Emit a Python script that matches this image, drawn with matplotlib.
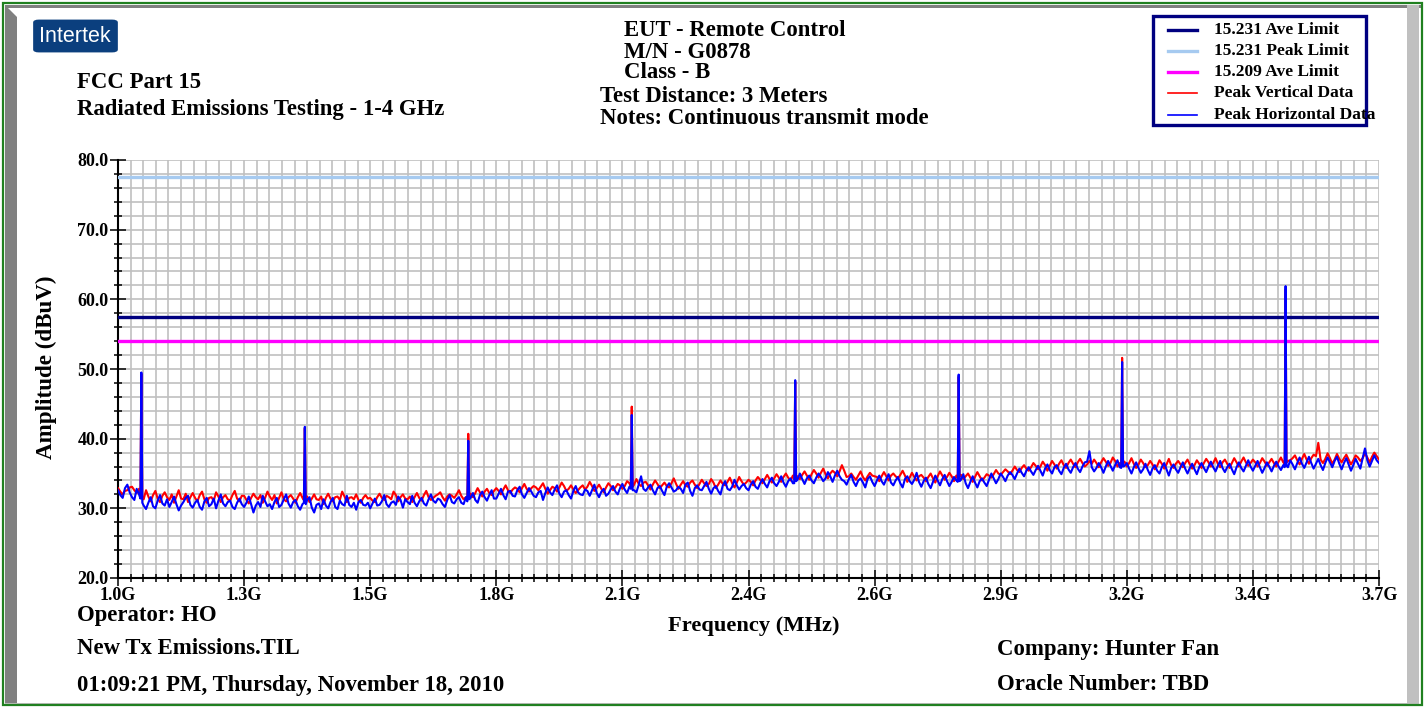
"""
Radiated emissions scan, 1-3.7 GHz, peak vertical and horizontal data
against the FCC 15.231 / 15.209 limits.
"""
import matplotlib
matplotlib.use('Agg')
from matplotlib import pyplot as pp
from matplotlib.patches import Rectangle, FancyBboxPatch, Polygon
from matplotlib.lines import Line2D
import matplotlib.ticker as plticker
import numpy as np

pp.rcParams['font.family'] = ['Liberation Serif', 'DejaVu Serif']
pp.rcParams['font.weight'] = 'bold'

W, H = 1427, 707

# limits (dBuV)
aveLimit231 = 57.5
peakLimit231 = 77.5
aveLimit209 = 54.0

# noise floor read off every 5 MHz: "even" list at 1000,1010,...,3700 and
# "odd" list at 1005,1015,...,3695 (one row per 270 MHz division)
horizEven = [
  32.6, 31.5, 33.4, 31.6, 32.8, 31.2, 29.9, 31.6, 30.0, 31.9, 30.4, 30.2, 31.7, 29.7, 30.9, 31.8, 30.1, 31.2, 29.8, 31.5, 30.6, 30.0, 32.0, 30.3, 31.1, 29.9, 31.4,
  30.2, 31.7, 29.4, 30.9, 31.8, 30.3, 29.9, 31.5, 30.5, 32.0, 30.1, 31.2, 29.8, 30.8, 31.6, 29.4, 30.7, 31.3, 30.0, 31.5, 29.9, 30.6, 31.8, 30.2, 29.8, 31.2, 30.4,
  30.0, 31.4, 30.5, 31.9, 30.2, 31.0, 31.7, 30.1, 30.9, 31.8, 30.3, 31.5, 30.4, 32.0, 30.8, 31.2, 30.2, 31.9, 30.7, 31.6, 30.6, 31.3, 32.2, 30.8, 32.4, 31.1, 32.6,
  31.4, 32.8, 31.3, 32.5, 31.7, 33.1, 31.5, 32.9, 31.8, 32.3, 31.2, 33.0, 31.9, 33.3, 31.6, 32.6, 31.4, 33.2, 32.0, 32.7, 31.8, 33.4, 31.6, 32.8, 32.1, 33.2, 32.0,
  33.5, 32.2, 33.0, 32.3, 34.6, 32.5, 33.4, 32.0, 33.2, 31.9, 33.6, 32.4, 33.1, 32.2, 33.7, 31.8, 33.3, 32.6, 33.8, 32.1, 33.2, 32.0, 33.9, 32.6, 34.1, 32.7, 33.5,
  32.6, 33.9, 32.8, 34.2, 33.0, 34.4, 33.2, 34.6, 33.1, 34.3, 33.4, 35.0, 33.5, 34.7, 33.6, 35.0, 33.9, 35.2, 33.8, 35.4, 34.1, 33.4, 34.8, 33.2, 34.3, 33.0, 34.6,
  33.2, 34.7, 33.4, 34.9, 33.3, 34.5, 33.0, 34.6, 33.5, 35.1, 33.1, 34.4, 32.9, 34.7, 33.3, 34.8, 33.2, 34.5, 33.4, 34.9, 32.9, 34.6, 33.0, 34.3, 33.2, 35.0, 33.6,
  35.0, 33.9, 35.2, 34.2, 35.7, 34.6, 35.9, 34.8, 36.1, 34.7, 36.3, 35.0, 36.2, 34.9, 36.4, 35.1, 36.5, 35.2, 36.6, 38.2, 35.3, 36.5, 35.1, 36.8, 35.4, 36.9, 35.5,
  36.5, 35.0, 36.6, 35.1, 36.4, 34.8, 36.2, 35.0, 36.5, 34.7, 36.3, 35.1, 36.6, 35.0, 36.4, 34.9, 36.5, 35.2, 36.7, 35.3, 36.8, 35.2, 36.4, 34.9, 36.6, 35.3, 36.9,
  35.4, 36.8, 35.1, 36.6, 35.3, 36.7, 35.5, 36.4, 36.9, 35.6, 37.3, 35.8, 37.4, 35.7, 37.1, 35.5, 37.3, 35.9, 37.4, 35.6, 37.2, 35.4, 37.1, 35.7, 38.6, 36.0, 37.6,
  36.5]

horizOdd = [
  31.9, 32.9, 32.3, 31.2, 32.0, 30.4, 30.8, 30.3, 31.1, 30.7, 31.3, 30.9, 30.6, 30.4, 31.5, 30.5, 30.8, 30.2, 31.0, 30.3, 31.4, 31.1, 30.7, 30.9, 30.2, 30.8, 30.6,
  30.8, 30.6, 30.4, 30.2, 31.0, 30.6, 30.9, 30.2, 31.3, 30.7, 30.9, 30.3, 30.6, 31.2, 30.1, 30.5, 29.9, 30.4, 30.9, 30.2, 31.1, 30.4, 30.5, 30.8, 30.9, 30.5, 30.8,
  30.7, 30.4, 31.0, 30.6, 30.8, 30.5, 31.2, 31.3, 30.6, 30.8, 31.0, 30.7, 31.3, 31.1, 31.4, 30.6, 31.2, 30.9, 31.3, 30.8, 31.6, 31.5, 31.2, 31.9, 31.6, 31.9, 31.4,
  32.1, 31.9, 32.4, 31.8, 32.6, 32.0, 32.2, 32.4, 31.6, 32.5, 32.2, 32.3, 32.7, 32.1, 32.4, 31.9, 32.5, 32.3, 31.9, 32.5, 32.6, 32.2, 32.4, 31.8, 32.7, 32.4, 32.9,
  32.7, 33.1, 32.6, 33.4, 32.8, 33.0, 32.6, 32.9, 32.5, 33.1, 33.0, 32.6, 32.8, 33.4, 32.5, 32.9, 32.7, 33.2, 32.8, 32.9, 32.5, 33.3, 32.8, 33.1, 33.3, 33.2, 32.9,
  33.4, 33.1, 33.6, 33.5, 33.9, 33.6, 33.8, 33.7, 33.9, 33.6, 34.1, 34.2, 34.3, 34.0, 34.4, 34.5, 34.3, 34.6, 34.7, 34.6, 33.9, 34.2, 33.8, 34.0, 33.7, 34.2, 33.8,
  34.0, 33.9, 34.2, 33.7, 34.0, 33.6, 34.2, 33.9, 34.1, 33.8, 33.9, 33.5, 33.8, 34.0, 34.2, 33.9, 33.8, 34.0, 34.1, 33.6, 33.8, 33.7, 33.9, 33.7, 34.1, 34.3, 34.2,
  34.5, 34.7, 34.8, 35.0, 35.1, 35.4, 35.3, 35.5, 35.4, 35.7, 35.5, 35.9, 35.4, 35.8, 35.6, 35.9, 35.7, 36.0, 36.7, 35.9, 35.8, 35.9, 36.0, 36.1, 36.2, 35.9, 36.1,
  35.7, 35.9, 35.8, 35.6, 35.5, 35.7, 35.4, 35.9, 35.6, 35.8, 35.6, 35.9, 35.7, 35.8, 35.6, 35.9, 35.8, 36.0, 35.9, 36.1, 35.8, 35.9, 35.6, 35.9, 35.8, 36.1, 36.0,
  36.1, 35.9, 35.8, 36.0, 36.1, 36.0, 36.2, 35.9, 36.3, 36.5, 36.4, 36.6, 36.5, 36.4, 36.2, 36.5, 36.6, 36.8, 36.4, 36.5, 36.3, 36.2, 36.4, 37.2, 36.9, 36.8, 36.9]

vertEven = [
  32.9, 32.0, 32.6, 33.1, 32.2, 31.9, 32.6, 31.0, 32.5, 30.9, 32.3, 31.2, 30.8, 32.6, 31.3, 30.9, 32.2, 31.0, 32.4, 30.8, 31.6, 32.3, 30.9, 31.9, 31.1, 32.5, 31.0,
  31.8, 30.7, 32.1, 31.3, 30.8, 32.4, 31.2, 30.7, 32.3, 31.0, 31.9, 30.8, 32.2, 31.1, 30.9, 32.0, 31.2, 30.6, 32.1, 31.0, 31.7, 32.4, 30.9, 31.6, 32.0, 30.8, 31.9,
  31.5, 30.9, 32.1, 31.2, 31.6, 32.4, 31.0, 32.0, 31.3, 30.9, 32.2, 31.1, 32.5, 31.2, 31.8, 32.3, 31.1, 32.0, 31.5, 32.6, 31.3, 32.1, 31.6, 32.9, 31.7, 32.8, 31.9,
  32.9, 32.0, 33.3, 32.2, 33.0, 32.3, 33.5, 32.4, 33.2, 32.6, 33.6, 32.1, 33.1, 32.4, 33.7, 32.5, 33.3, 32.2, 33.0, 32.7, 33.8, 32.5, 33.4, 32.3, 33.6, 32.6, 33.5,
  32.8, 33.9, 32.9, 34.2, 33.2, 33.8, 32.7, 34.0, 32.9, 33.7, 33.0, 34.3, 32.8, 33.9, 33.1, 34.0, 32.9, 34.1, 33.2, 34.2, 32.9, 34.0, 33.3, 34.4, 33.0, 34.5, 33.4,
  34.1, 33.3, 34.5, 33.6, 34.8, 33.7, 34.9, 33.8, 35.0, 34.0, 35.2, 34.2, 35.3, 34.1, 35.5, 34.4, 35.7, 34.3, 35.4, 34.6, 36.2, 34.5, 35.0, 34.1, 35.3, 34.0, 35.1,
  34.6, 33.9, 35.2, 34.0, 35.0, 34.3, 35.4, 33.8, 35.1, 34.0, 34.8, 33.9, 35.0, 33.7, 35.3, 34.1, 35.1, 33.9, 35.4, 34.2, 35.0, 33.8, 35.2, 34.0, 34.9, 34.4, 35.5,
  34.8, 35.6, 34.9, 36.0, 35.2, 36.2, 35.4, 36.5, 35.6, 36.7, 35.4, 36.8, 35.7, 36.9, 35.8, 37.0, 35.9, 37.1, 36.0, 36.8, 37.0, 35.9, 37.2, 36.1, 37.3, 36.0, 37.1,
  36.0, 37.2, 35.8, 37.0, 35.9, 36.8, 35.6, 36.9, 35.7, 37.1, 35.8, 36.8, 35.9, 37.0, 35.7, 36.9, 35.8, 37.1, 36.0, 37.2, 35.9, 37.0, 35.8, 37.2, 36.0, 37.3, 36.1,
  37.0, 36.0, 37.2, 36.1, 37.1, 36.0, 37.3, 36.2, 36.9, 37.6, 36.3, 37.8, 36.4, 37.7, 39.4, 36.5, 37.9, 36.4, 37.8, 36.6, 37.7, 36.3, 37.6, 36.8, 37.9, 36.6, 38.0,
  37.0]

vertOdd = [
  32.4, 32.5, 33.0, 32.6, 32.8, 31.3, 31.7, 31.9, 31.4, 31.8, 31.6, 32.0, 31.7, 31.4, 32.1, 31.6, 31.5, 31.9, 31.3, 31.5, 31.1, 31.7, 31.6, 31.3, 31.9, 31.4, 31.8,
  31.2, 31.5, 31.6, 31.9, 31.5, 31.7, 31.9, 31.5, 31.3, 31.6, 31.4, 31.6, 31.5, 31.7, 31.4, 31.3, 31.7, 31.5, 31.4, 31.6, 31.2, 31.7, 31.5, 31.3, 31.2, 31.5, 31.4,
  31.1, 31.6, 31.5, 31.8, 31.3, 31.9, 31.6, 31.4, 31.7, 31.6, 31.5, 31.9, 31.6, 31.5, 32.0, 31.6, 31.7, 31.8, 32.0, 31.8, 31.6, 32.1, 32.2, 32.3, 32.4, 32.2, 32.5,
  32.5, 32.7, 32.6, 32.7, 32.8, 32.9, 32.8, 32.9, 33.0, 33.1, 32.8, 32.6, 32.9, 33.0, 33.2, 32.8, 32.7, 32.6, 33.3, 33.1, 33.2, 32.9, 32.8, 33.0, 33.2, 33.0, 33.3,
  33.2, 33.6, 33.4, 33.5, 33.7, 33.3, 33.4, 33.5, 33.3, 33.2, 33.6, 33.5, 33.4, 33.3, 33.7, 33.4, 33.5, 33.6, 33.5, 33.7, 33.4, 33.5, 33.8, 33.6, 33.7, 33.9, 33.7,
  33.8, 34.0, 34.1, 34.2, 34.2, 34.3, 34.4, 34.5, 34.4, 34.7, 34.6, 34.8, 34.7, 34.9, 35.0, 35.1, 34.9, 35.0, 35.1, 35.3, 35.4, 34.6, 34.5, 34.7, 34.5, 34.6, 34.7,
  34.5, 34.6, 34.6, 34.7, 34.6, 34.8, 34.7, 34.4, 34.5, 34.6, 34.4, 34.5, 34.3, 34.6, 34.7, 34.5, 34.6, 34.7, 34.8, 34.6, 34.4, 34.5, 34.6, 34.4, 34.7, 34.9, 35.0,
  35.2, 35.3, 35.4, 35.5, 35.8, 35.7, 35.9, 36.1, 36.0, 36.2, 36.1, 36.3, 36.4, 36.2, 36.5, 36.4, 36.6, 36.5, 36.3, 36.4, 36.5, 36.6, 36.7, 36.5, 36.8, 36.5, 36.7,
  36.5, 36.4, 36.3, 36.5, 36.2, 36.3, 36.1, 36.4, 36.3, 36.2, 36.4, 36.3, 36.5, 36.3, 36.2, 36.4, 36.5, 36.6, 36.5, 36.4, 36.6, 36.4, 36.5, 36.6, 36.7, 36.6, 36.5,
  36.6, 36.5, 36.7, 36.6, 36.5, 36.7, 36.6, 36.8, 37.2, 36.9, 37.1, 37.0, 37.2, 37.5, 37.0, 37.1, 37.2, 37.0, 37.1, 37.2, 37.0, 36.9, 37.3, 37.2, 37.3, 37.4, 37.5]

# harmonic spikes (MHz): shoulder, peak, shoulder
spikeFreqs = [1048, 1050, 1052, 1398, 1400, 1402, 1748, 1750, 1752, 2098, 2100, 2102,
              2448, 2450, 2452, 2798, 2800, 2802, 3148, 3150, 3152, 3498, 3500, 3502]
horizSpikes = [31.4, 49.5, 30.8, 30.8, 41.7, 30.6, 31.0, 39.7, 31.3, 32.8, 43.4, 32.6,
               33.6, 48.4, 33.9, 33.8, 49.2, 33.9, 35.8, 51.0, 36.0, 35.9, 61.9, 36.1]
vertSpikes = [31.8, 49.3, 31.4, 31.2, 41.5, 31.1, 31.5, 40.7, 31.8, 33.2, 44.6, 33.1,
              34.1, 48.2, 34.4, 34.3, 48.9, 34.5, 36.3, 51.6, 36.5, 36.4, 61.4, 36.6]

def buildTrace(evenVals, oddVals, spikeVals):
  evenF = np.arange(1000, 3701, 10)
  oddF = np.arange(1005, 3700, 10)
  assert len(evenF) == len(evenVals) and len(oddF) == len(oddVals), (len(evenVals), len(oddVals))
  trace = dict(zip(evenF.tolist(), evenVals))
  trace.update(zip(oddF.tolist(), oddVals))
  trace.update(zip(spikeFreqs, spikeVals))
  keys = sorted(trace.keys())
  return np.array(keys, dtype=float), np.array([trace[k] for k in keys])

def fx(x):
  return x / W

def fy(y):
  return 1 - y / H

def main():
  fig = pp.figure(figsize=(W / 100, H / 100), dpi=100)

  # sunken frame
  fig.patches.append(Rectangle((0, 0), 1, 1, transform=fig.transFigure, facecolor='white', edgecolor='none', zorder=-10))
  fig.patches.append(Rectangle((fx(5), fy(8)), fx(1417), 3 / H, transform=fig.transFigure, facecolor='#808080', edgecolor='none'))
  fig.patches.append(Polygon([(fx(5), fy(5)), (fx(17), fy(17)), (fx(17), fy(703)), (fx(5), fy(703))], closed=True,
                             transform=fig.transFigure, facecolor='#808080', edgecolor='none'))
  fig.patches.append(Rectangle((fx(1407), fy(703)), 12 / W, 698 / H, transform=fig.transFigure, facecolor='#c0c0c0', edgecolor='none'))
  fig.patches.append(Rectangle((fx(5), fy(706)), fx(1414), 3 / H, transform=fig.transFigure, facecolor='#c0c0c0', edgecolor='none'))
  fig.patches.append(Rectangle((fx(2.5), fy(704.5)), fx(1419.5), 702 / H, transform=fig.transFigure, facecolor='none', edgecolor='#208020', linewidth=1.6))

  # logo
  fig.patches.append(FancyBboxPatch((fx(36), fy(51)), 79 / W, 30 / H, boxstyle='round,pad=0.002,rounding_size=0.004',
                                    transform=fig.transFigure, facecolor='#0b3f7e', edgecolor='none'))
  fig.text(fx(75), fy(37), 'Intertek', color='white', fontsize=15.5, family='Liberation Sans', weight='normal', ha='center', va='center')

  # header
  fs = 16.4
  fig.text(fx(77), fy(82), 'FCC Part 15', fontsize=fs, ha='left', va='center')
  fig.text(fx(77), fy(110), 'Radiated Emissions Testing - 1-4 GHz', fontsize=fs, ha='left', va='center')
  fig.text(fx(624), fy(31), 'EUT - Remote Control', fontsize=fs, ha='left', va='center')
  fig.text(fx(624), fy(52), 'M/N - G0878', fontsize=fs, ha='left', va='center')
  fig.text(fx(624), fy(73), 'Class - B', fontsize=fs, ha='left', va='center')
  fig.text(fx(600), fy(97), 'Test Distance: 3 Meters', fontsize=fs, ha='left', va='center')
  fig.text(fx(600), fy(119), 'Notes: Continuous transmit mode', fontsize=fs, ha='left', va='center')

  # footer
  fig.text(fx(77), fy(615), 'Operator: HO', fontsize=fs, ha='left', va='center')
  fig.text(fx(77), fy(649), 'New Tx Emissions.TIL', fontsize=fs, ha='left', va='center')
  fig.text(fx(77), fy(685), '01:09:21 PM, Thursday, November 18, 2010', fontsize=fs, ha='left', va='center')
  fig.text(fx(997), fy(649), 'Company: Hunter Fan', fontsize=fs, ha='left', va='center')
  fig.text(fx(997), fy(685), 'Oracle Number: TBD', fontsize=fs, ha='left', va='center')

  ax = fig.add_axes([fx(118), fy(578), (1379 - 118) / W, (578 - 160) / H])
  ax.set_facecolor('white')

  fv, vv = buildTrace(vertEven, vertOdd, vertSpikes)
  fh, vh = buildTrace(horizEven, horizOdd, horizSpikes)

  ax.axhline(peakLimit231, color='#a6caf0', linewidth=2.4, zorder=3)
  ax.axhline(aveLimit231, color='#000080', linewidth=2.4, zorder=3)
  ax.axhline(aveLimit209, color='#ff00ff', linewidth=2.4, zorder=3)
  ax.plot(fv, vv, color='#ff0000', linewidth=1.5, zorder=4)
  ax.plot(fh, vh, color='#0000ff', linewidth=1.5, zorder=5)

  ax.set_xlim(1000, 3700)
  ax.set_ylim(20, 80)
  ax.xaxis.set_major_locator(plticker.FixedLocator(np.arange(1000, 3701, 270)))
  ax.xaxis.set_minor_locator(plticker.FixedLocator(np.arange(1000, 3701, 27)))
  ax.yaxis.set_major_locator(plticker.MultipleLocator(10))
  ax.yaxis.set_minor_locator(plticker.MultipleLocator(2))
  ax.xaxis.set_major_formatter(plticker.FuncFormatter(lambda v, p: '%.1fG' % (v / 1000)))
  ax.yaxis.set_major_formatter(plticker.FuncFormatter(lambda v, p: '%.1f' % v))
  ax.grid(which='both', color='#c0c0c0', linewidth=1.2, zorder=0)
  ax.set_axisbelow(True)

  ax.tick_params(which='major', direction='inout', length=11.5, width=1.1, color='black', labelsize=13)
  ax.tick_params(which='minor', direction='inout', length=6, width=1.1, color='black')
  ax.tick_params(axis='x', which='major', pad=0.5)
  ax.tick_params(axis='y', which='major', pad=1)
  for lab in ax.get_xticklabels() + ax.get_yticklabels():
    lab.set_fontweight('bold')

  ax.spines['right'].set_visible(False)
  ax.spines['top'].set_visible(False)
  ax.spines['left'].set_linewidth(1.5)
  ax.spines['bottom'].set_linewidth(1.5)

  fig.text(fx(46), fy(367), 'Amplitude (dBuV)', fontsize=16.6, rotation=90, ha='center', va='center')
  fig.text(fx(754), fy(626), 'Frequency (MHz)', fontsize=16.2, ha='center', va='center')

  # legend box
  fig.patches.append(Rectangle((fx(1153), fy(125)), (1366 - 1153) / W, (125 - 16) / H, transform=fig.transFigure,
                               facecolor='white', edgecolor='#000080', linewidth=2.4))
  legendItems = [('15.231 Ave Limit', '#000080', 2.4), ('15.231 Peak Limit', '#a6caf0', 2.4),
                 ('15.209 Ave Limit', '#ff00ff', 2.4), ('Peak Vertical Data', '#ff0000', 1.2),
                 ('Peak Horizontal Data', '#0000ff', 1.2)]
  rowY = [30, 51, 72, 93, 115]
  for (name, color, lw), y in zip(legendItems, rowY):
    fig.lines.append(Line2D([fx(1168), fx(1197)], [fy(y), fy(y)], transform=fig.transFigure, color=color, linewidth=lw))
    fig.text(fx(1214), fy(y), name, fontsize=12.5, ha='left', va='center')

  fig.savefig('out.png', dpi=100)

if __name__ == "__main__":
  main()
